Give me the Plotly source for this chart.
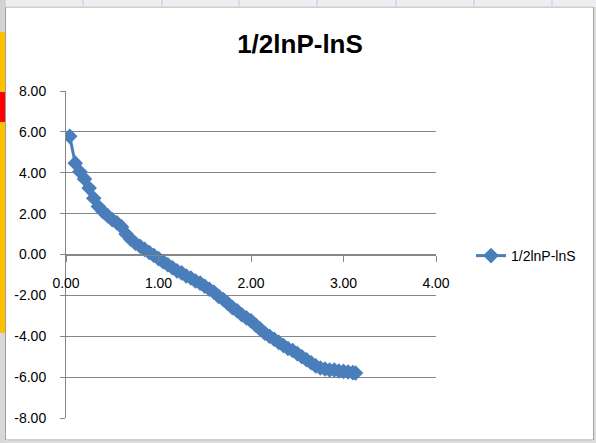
import plotly.graph_objects as go

# ---- data ----
x_vals = [0.04, 0.10, 0.15, 0.20, 0.25, 0.30, 0.35, 0.40, 0.45, 0.50,
          0.55, 0.60, 0.65, 0.70, 0.75, 0.80, 0.85, 0.90, 0.95, 1.00,
          1.05, 1.10, 1.15, 1.20, 1.25, 1.30, 1.35, 1.40, 1.45, 1.50,
          1.55, 1.60, 1.65, 1.70, 1.75, 1.80, 1.85, 1.90, 1.95, 2.00,
          2.05, 2.10, 2.15, 2.20, 2.25, 2.30, 2.35, 2.40, 2.45, 2.50,
          2.55, 2.60, 2.65, 2.70, 2.75, 2.80, 2.85, 2.90, 2.95, 3.00,
          3.05, 3.10, 3.13]
y_vals = [5.78, 4.47, 4.05, 3.70, 3.25, 2.75, 2.35, 2.10, 1.90, 1.70,
          1.55, 1.35, 1.00, 0.75, 0.55, 0.40, 0.25, 0.10, -0.05, -0.20,
          -0.35, -0.50, -0.65, -0.80, -0.90, -1.05, -1.15, -1.30, -1.40, -1.55,
          -1.70, -1.85, -2.05, -2.20, -2.40, -2.60, -2.75, -2.95, -3.10, -3.25,
          -3.45, -3.65, -3.85, -4.00, -4.15, -4.30, -4.45, -4.60, -4.70, -4.85,
          -5.00, -5.15, -5.30, -5.45, -5.55, -5.60, -5.65, -5.65, -5.70, -5.72,
          -5.75, -5.78, -5.80]
series_name = "1/2lnP-lnS"
chart_title = "1/2lnP-lnS"
x_ticks = [0, 1, 2, 3, 4]
x_tick_labels = ["0.00", "1.00", "2.00", "3.00", "4.00"]
y_ticks = [-8, -6, -4, -2, 0, 2, 4, 6, 8]
y_tick_labels = ["-8.00", "-6.00", "-4.00", "-2.00", "0.00",
                 "2.00", "4.00", "6.00", "8.00"]

# ---- layout geometry ----
W, H = 596, 443
ML, MR, MT, MB = 66, 160, 91, 25
PW, PH = W - ML - MR, H - MT - MB


def px(x):
    return (x - ML) / PW


def py(y):
    return (H - MB - y) / PH


BLUE = "#4a7ebb"
GRID = "#868686"
FONT = "Liberation Sans"

fig = go.Figure()
fig.add_trace(go.Scatter(
    x=x_vals, y=y_vals, mode="lines+markers", name=series_name,
    line=dict(color=BLUE, width=3),
    marker=dict(symbol="diamond", size=12, color=BLUE, line=dict(width=0)),
))

shapes = []
# chart-area frame
shapes.append(dict(type="rect", xref="paper", yref="paper",
                   x0=px(5.5), x1=px(593.5), y0=py(440), y1=py(7),
                   line=dict(color="#a0a0a0", width=1), layer="below"))
# spreadsheet strip on top
shapes.append(dict(type="rect", xref="paper", yref="paper",
                   x0=px(0), x1=px(596), y0=py(6.5), y1=py(0),
                   fillcolor="#eceef2", line=dict(width=0), layer="below"))
for cx in [5, 83, 162, 239, 317, 396, 474, 552]:
    shapes.append(dict(type="line", xref="paper", yref="paper",
                       x0=px(cx), x1=px(cx), y0=py(6.5), y1=py(0),
                       line=dict(color="#c4c8ce", width=1)))
# left strip (spreadsheet cells)
strips = [(0, 32, "#d4d4d4"), (32, 92, "#ffc000"), (92, 122, "#ff0000"),
          (122, 333, "#ffc000"), (333, 443, "#d8d8d8")]
for y0, y1, c in strips:
    shapes.append(dict(type="rect", xref="paper", yref="paper",
                       x0=px(0), x1=px(5), y0=py(y1), y1=py(y0),
                       fillcolor=c, line=dict(width=0), layer="below"))
# right sliver
shapes.append(dict(type="rect", xref="paper", yref="paper",
                   x0=px(594), x1=px(596), y0=py(443), y1=py(7),
                   fillcolor="#dcdcdc", line=dict(width=0), layer="below"))
# bottom sliver
shapes.append(dict(type="rect", xref="paper", yref="paper",
                   x0=px(5), x1=px(596), y0=py(443), y1=py(441),
                   fillcolor="#dcdcdc", line=dict(width=0), layer="below"))

fig.update_layout(
    width=W, height=H,
    margin=dict(l=ML, r=MR, t=MT, b=MB, pad=0),
    paper_bgcolor="white", plot_bgcolor="white",
    font=dict(family=FONT, size=14, color="#000000"),
    title=dict(text="<b>" + chart_title + "</b>", x=300 / W, xanchor="center",
               y=1 - 44 / H, yanchor="middle",
               font=dict(family=FONT, size=26, color="#000000")),
    showlegend=True,
    legend=dict(x=px(471), y=py(256), xanchor="left", yanchor="middle",
                bgcolor="rgba(0,0,0,0)", font=dict(size=14),
                itemwidth=30),
    xaxis=dict(range=[0, 4], tickvals=x_ticks, ticktext=x_tick_labels,
               showgrid=False, zeroline=False, showline=True,
               linecolor=GRID, linewidth=1, ticks="outside", ticklen=6,
               tickcolor=GRID, anchor="free", position=0.5,
               ticklabelstandoff=10, fixedrange=True),
    yaxis=dict(range=[-8, 8], tickvals=y_ticks, ticktext=y_tick_labels,
               showgrid=True, gridcolor=GRID, gridwidth=1, zeroline=False,
               showline=True, linecolor=GRID, linewidth=1, ticks="outside",
               ticklen=5, tickcolor=GRID, ticklabelstandoff=11,
               fixedrange=True),
    shapes=shapes,
)

fig.write_html("out.html")
